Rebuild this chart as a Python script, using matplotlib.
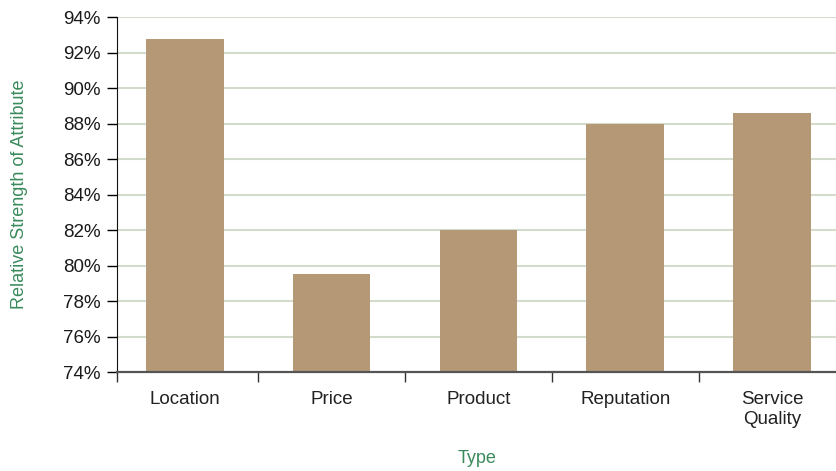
import matplotlib
matplotlib.use("Agg")
import matplotlib.pyplot as plt
from matplotlib.ticker import FuncFormatter, MultipleLocator

# values
types = ["Location", "Price", "Product", "Reputation", "Service\nQuality"]
strength = [92.8, 79.5, 82.0, 88.0, 88.6]

plt.rcParams['font.family'] = ['Liberation Sans', 'DejaVu Sans']

fig = plt.figure(figsize=(8.37, 4.71), dpi=100)
ax = fig.add_axes([117 / 837, 1 - 372 / 471, 720 / 837, (372 - 17.3) / 471])

x = list(range(len(types)))
ax.bar(x, strength, width=0.53, bottom=0, color="#b59976", zorder=2)

left, right = -0.46, 4.44
ax.set_ylim(74, 94)
ax.set_xlim(left, right)
ax.yaxis.set_major_locator(MultipleLocator(2))
ax.yaxis.set_major_formatter(FuncFormatter(lambda v, p: "%d%%" % v))

# ticks sit between the categories, labels under the bars
ax.set_xticks([left] + [i + 0.5 for i in x[:-1]])
ax.set_xticklabels([])
ax.set_xticks(x, minor=True)
ax.set_xticklabels(types, minor=True, fontsize=13.5, color="#222222")
ax.tick_params(axis="x", which="minor", length=0, pad=14)
ax.tick_params(axis="x", which="major", length=7, width=1, color="#333333", direction="out")
ax.tick_params(axis="y", length=7, width=1, pad=5, labelsize=13.5, labelcolor="#1a1a1a")

ax.grid(axis="y", color="#d3dbcc", linewidth=1.5, zorder=0)
ax.set_axisbelow(True)

for s in ["top", "right"]:
    ax.spines[s].set_visible(False)
ax.spines["left"].set_color("#111111")
ax.spines["bottom"].set_color("#555555")
ax.spines["bottom"].set_linewidth(1.6)

ax.set_ylabel("Relative Strength of Attribute", color="#3a8a5c", fontsize=13, labelpad=25)
ax.set_xlabel("Type", color="#3a8a5c", fontsize=13, labelpad=16)

fig.savefig("out.png", dpi=100)
